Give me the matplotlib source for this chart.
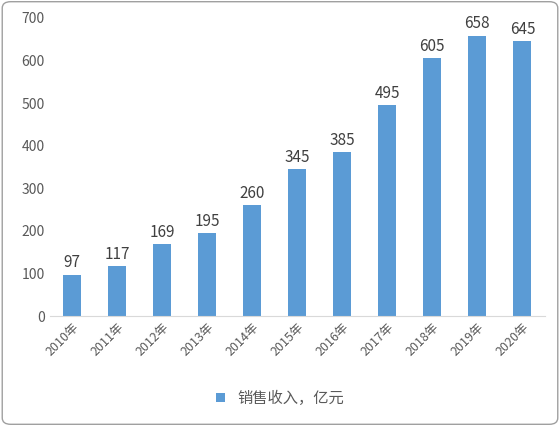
import matplotlib
matplotlib.use("Agg")
import matplotlib.pyplot as plt
from matplotlib.patches import FancyBboxPatch

plt.rcParams['font.family'] = ['Noto Sans CJK SC', 'DejaVu Sans']

years = ["2010年","2011年","2012年","2013年","2014年","2015年","2016年","2017年","2018年","2019年","2020年"]
values = [97,117,169,195,260,345,385,495,605,658,645]
yticks = [0,100,200,300,400,500,600,700]

fig = plt.figure(figsize=(5.6,4.26), dpi=100)
fig.patches.append(FancyBboxPatch((0.004,0.004),0.992,0.992, boxstyle="round,pad=0,rounding_size=0.015",
    transform=fig.transFigure, fill=False, edgecolor="#A0A0A0", linewidth=1))
ax = fig.add_axes([0.089,0.258,0.884,0.70])
x = range(len(years))
bars = ax.bar(x, values, width=0.4, color="#5B9BD5", label="销售收入，亿元")
for xi, v in zip(x, values):
    ax.text(xi, v+8, str(v), ha="center", va="bottom", fontsize=11, color="#404040")
ax.set_ylim(0,700)
ax.set_yticks(yticks)
ax.set_xlim(-0.5, len(years)-0.5)
ax.set_xticks(list(x))
ax.set_xticklabels(years, rotation=45, ha="right", rotation_mode="anchor", fontsize=9, color="#595959")
ax.tick_params(axis="y", labelsize=10, labelcolor="#595959", length=0)
ax.tick_params(axis="x", length=0)
for s in ["top","right","left"]:
    ax.spines[s].set_visible(False)
ax.spines["bottom"].set_color("#D9D9D9")
fig.legend(loc="center", bbox_to_anchor=(0.5,0.065), frameon=False, fontsize=11,
           handlelength=0.6, handleheight=0.6, labelcolor="#595959")
fig.savefig("out.png", dpi=100)
